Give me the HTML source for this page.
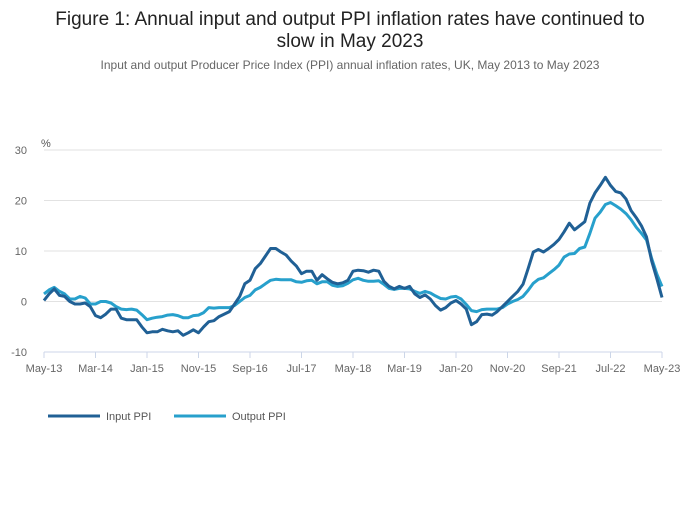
<!DOCTYPE html>
<html><head><meta charset="utf-8"><style>
body{margin:0;background:#fff;font-family:"Liberation Sans",sans-serif;}
svg text{font-family:"Liberation Sans",sans-serif;}
</style></head><body>
<svg width="700" height="502">
<text x="350" y="25" text-anchor="middle" font-size="19" fill="#222">Figure 1: Annual input and output PPI inflation rates have continued to</text>
<text x="350" y="47" text-anchor="middle" font-size="19" fill="#222">slow in May 2023</text>
<text x="350" y="69" text-anchor="middle" font-size="12" fill="#666">Input and output Producer Price Index (PPI) annual inflation rates, UK, May 2013 to May 2023</text>
<text x="41" y="147" font-size="11" fill="#555">%</text>
<g id="grid"></g><g id="axes"></g><g id="lines"></g>
<g>
<line x1="48" y1="416" x2="100" y2="416" stroke="#206095" stroke-width="3"/>
<text x="106" y="420" font-size="11" fill="#555">Input PPI</text>
<line x1="174" y1="416" x2="226" y2="416" stroke="#27a0cc" stroke-width="3"/>
<text x="232" y="420" font-size="11" fill="#555">Output PPI</text>
</g>
</svg>
<script>
const xTickLabels=["May-13","Mar-14","Jan-15","Nov-15","Sep-16","Jul-17","May-18","Mar-19","Jan-20","Nov-20","Sep-21","Jul-22","May-23"];
const yTicks=[-10,0,10,20,30];
const inputPPI=[0.2,1.5,2.5,1.2,1,0,-0.5,-0.5,-0.3,-1,-2.8,-3.2,
-2.5,-1.5,-1.5,-3.3,-3.6,-3.6,-3.6,-5,-6.2,-6,-6,-5.5,
-5.8,-6,-5.8,-6.7,-6.2,-5.6,-6.2,-5,-4,-3.8,-3,-2.5,
-2,-0.5,1,3.5,4.2,6.5,7.5,9,10.5,10.5,9.8,9.2,
8,7,5.5,6,6,4.2,5.3,4.5,3.8,3.5,3.7,4.2,
6,6.2,6.1,5.8,6.2,6,4,3,2.5,3,2.6,3,
1.5,0.8,1.3,0.5,-0.8,-1.7,-1.2,-0.3,0.2,-0.5,-1.5,-4.6,
-4,-2.6,-2.5,-2.7,-2,-1,0,1,2,3.4,6.5,9.8,
10.3,9.8,10.5,11.3,12.3,13.8,15.5,14.2,15,15.8,19.5,21.5,
23,24.6,23,21.8,21.5,20.3,18,16.6,15,12.8,8,4.5,
0.8];
const outputPPI=[1.5,2.3,2.8,2,1.5,0.5,0.5,1,0.7,-0.5,-0.5,0,
0,-0.3,-1,-1.5,-1.6,-1.5,-1.7,-2.6,-3.6,-3.3,-3.1,-3,
-2.7,-2.6,-2.8,-3.2,-3.2,-2.8,-2.7,-2.2,-1.2,-1.3,-1.2,-1.2,
-1.2,-0.8,0,0.8,1.2,2.3,2.8,3.5,4.2,4.4,4.3,4.3,
4.3,3.9,3.8,4.1,4.2,3.5,3.9,3.9,3.2,3,3.1,3.6,
4.3,4.6,4.2,4,4,4.1,3.4,2.6,2.4,2.6,2.6,2.5,
2,1.6,2,1.7,1.1,0.6,0.5,0.9,1,0.5,-0.6,-1.8,
-2,-1.6,-1.5,-1.5,-1.5,-1.2,-0.5,0,0.4,1,2.2,3.6,
4.4,4.7,5.5,6.3,7.2,8.8,9.4,9.5,10.5,10.8,13.5,16.5,
17.7,19.2,19.6,19,18.3,17.4,16.2,14.7,13.5,12.2,8.5,5.4,
3];
const NS="http://www.w3.org/2000/svg";
const X0=44,X1=662,Y0=352,Y1=150;
const xs=i=>X0+(X1-X0)*i/(inputPPI.length-1);
const ys=v=>Y0-(v+10)/40*(Y0-Y1);
function mk(tag,attrs,parent){const e=document.createElementNS(NS,tag);for(const k in attrs)e.setAttribute(k,attrs[k]);document.getElementById(parent).appendChild(e);return e;}
yTicks.forEach(t=>{
 const l=mk('line',{x1:X0,x2:X1,y1:ys(t),y2:ys(t),stroke:t===-10?'#ccd6e8':'#e2e2e2','stroke-width':1},'grid');
 
 
 const tx=mk('text',{x:27,y:ys(t)+4,'text-anchor':'end','font-size':11,fill:'#666'},'axes');
 tx.textContent=t;
 
 
});
xTickLabels.forEach((lab,k)=>{
 const x=xs(k*10);
 const l=mk('line',{x1:x,x2:x,y1:Y0,y2:Y0+6,stroke:'#ccd6e8'},'axes');
 
 
 const tx=mk('text',{x:x,y:372,'text-anchor':'middle','font-size':11,fill:'#666'},'axes');
 tx.textContent=lab;
 
 
});
function line(arr,color,name){
 const p=mk('path',{d:arr.map((v,i)=>(i?'L':'M')+xs(i).toFixed(1)+' '+ys(v).toFixed(1)).join(''),fill:'none',stroke:color,'stroke-width':3,'stroke-linejoin':'round'},'lines');
 
 
}
line(outputPPI,'#27a0cc','output-ppi-line');
line(inputPPI,'#206095','input-ppi-line');
</script>
</body></html>
